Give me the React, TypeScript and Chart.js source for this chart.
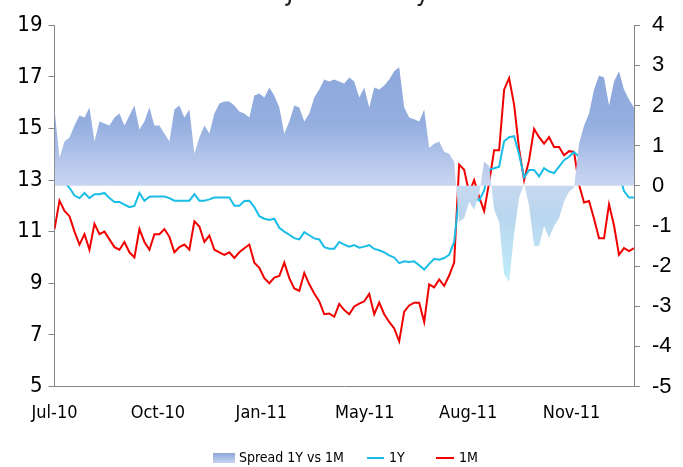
import React, { useEffect, useRef } from 'react';
import { Chart, registerables } from 'chart.js';

Chart.register(...registerables);

// ---------- data ----------
const chartTitle = 'EURJPY Volatility';
const xTickLabels = ['Jul-10', 'Oct-10', 'Jan-11', 'May-11', 'Aug-11', 'Nov-11'];
const xTickEvery = 20.7; // observations between two date labels

const seriesNames = ['Spread 1Y vs 1M', '1Y', '1M'];

const vol1Y = [
  13.0, 12.95, 12.9, 12.7, 12.4, 12.3, 12.5, 12.3, 12.45, 12.45,
  12.5, 12.3, 12.15, 12.15, 12.05, 11.95, 12.0, 12.5, 12.2, 12.35,
  12.36, 12.36, 12.36, 12.3, 12.2, 12.2, 12.2, 12.2, 12.45, 12.2,
  12.2, 12.25, 12.32, 12.32, 12.32, 12.32, 12.0, 12.0, 12.19, 12.2,
  11.95, 11.6, 11.5, 11.45, 11.5, 11.15, 11.0, 10.88, 10.75, 10.7,
  10.98, 10.86, 10.74, 10.7, 10.4, 10.34, 10.34, 10.6, 10.5, 10.42,
  10.48, 10.38, 10.42, 10.48, 10.33, 10.28, 10.2, 10.08, 10.0, 9.78,
  9.85, 9.82, 9.85, 9.7, 9.53, 9.75, 9.95, 9.91, 9.98, 10.1,
  10.6, 12.4, 12.3, 12.3, 12.38, 12.2, 12.6, 13.4, 13.46, 13.52,
  14.5, 14.66, 14.7, 14.0, 13.1, 13.39, 13.39, 13.14, 13.46, 13.33,
  13.27, 13.52, 13.77, 13.9, 14.09, 13.9, 13.65, 13.71, 13.52, 13.52,
  13.65, 14.09, 13.84, 13.27, 12.57, 12.32, 12.32,
];

const vol1M = [
  11.1, 12.2, 11.8, 11.6, 11.0, 10.5, 10.9, 10.3, 11.3, 10.9,
  11.0, 10.7, 10.4, 10.3, 10.6, 10.2, 10.0, 11.1, 10.6, 10.3,
  10.9, 10.9, 11.1, 10.8, 10.2, 10.4, 10.5, 10.3, 11.4, 11.2,
  10.6, 10.85, 10.3, 10.2, 10.1, 10.2, 9.98, 10.2, 10.36, 10.5,
  9.8, 9.6, 9.2, 9.0, 9.22, 9.28, 9.8, 9.2, 8.8, 8.71,
  9.4, 8.96, 8.6, 8.3, 7.8, 7.83, 7.7, 8.2, 7.96, 7.8,
  8.1, 8.21, 8.3, 8.59, 7.8, 8.25, 7.8, 7.5, 7.25, 6.75,
  7.9, 8.14, 8.25, 8.25, 7.5, 8.96, 8.84, 9.15, 8.9, 9.3,
  9.8, 13.6, 13.4, 12.5, 13.0, 12.35, 11.8, 12.9, 14.15, 14.15,
  16.5, 16.95, 15.92, 14.2, 13.0, 13.77, 14.98, 14.66, 14.41, 14.66,
  14.28, 14.28, 13.96, 14.12, 14.09, 12.82, 12.13, 12.19, 11.5, 10.74,
  10.74, 12.06, 11.24, 10.1, 10.36, 10.25, 10.36,
];

const spread1Yvs1M = [
  1.9, 0.7, 1.1, 1.2, 1.5, 1.75, 1.7, 1.95, 1.1, 1.6,
  1.55, 1.5, 1.7, 1.8, 1.5, 1.75, 2.0, 1.4, 1.6, 1.95,
  1.5, 1.5, 1.3, 1.1, 1.9, 2.0, 1.7, 1.9, 0.8, 1.2,
  1.5, 1.3, 1.8, 2.05, 2.1, 2.1, 2.0, 1.85, 1.8, 1.7,
  2.25, 2.3, 2.2, 2.45, 2.25, 1.95, 1.3, 1.6, 2.0, 1.95,
  1.6, 1.8, 2.2, 2.4, 2.65, 2.6, 2.65, 2.6, 2.55, 2.7,
  2.6, 2.2, 2.45, 1.95, 2.45, 2.4, 2.5, 2.65, 2.85, 2.95,
  1.95, 1.7, 1.66, 1.6, 1.9, 0.95, 1.05, 1.1, 0.85, 0.8,
  0.6, -0.9, -0.8, -0.4, -0.6, -0.2, 0.6, 0.5, -0.6, -0.9,
  -2.2, -2.4, -1.2, -0.3, 0.05, -0.5, -1.5, -1.5, -1.0, -1.3,
  -1.0, -0.8, -0.4, -0.15, -0.05, 1.05, 1.5, 1.8, 2.4, 2.75,
  2.7, 2.0, 2.6, 2.85, 2.4, 2.15, 1.95,
];

const leftMin = 5, leftMax = 19, leftStep = 2;
const rightMin = -5, rightMax = 4, rightStep = 1;

// ---------- styles ----------
const NARROW = "'Liberation Sans Narrow', 'DejaVu Sans Condensed', 'Arial Narrow', 'Liberation Sans', sans-serif";
const AXIS = '#868686';
const CYAN = '#19BDE6';
const RED = '#F00000';

function spreadFill(chart: any): any {
  const area = chart.chartArea;
  const ys = chart.scales?.yR;
  if (!area || !ys) return '#9DB3E0';
  const top = ys.getPixelForValue(3.1);
  const zero = ys.getPixelForValue(0);
  const bot = ys.getPixelForValue(-2.6);
  const g = chart.ctx.createLinearGradient(0, top, 0, bot);
  const f = (zero - top) / (bot - top);
  g.addColorStop(0, '#8CA7DB');
  g.addColorStop(f * 0.5, '#94AEDF');
  g.addColorStop(f - 0.002, '#CAD6F1');
  g.addColorStop(f + 0.002, '#C6D9F0');
  g.addColorStop(f + (1 - f) * 0.3, '#B9D6EE');
  g.addColorStop(1, '#C0F1FA');
  return g;
}

const titlePlugin = {
  id: 'cutTitle',
  afterDraw(chart: any) {
    const ctx = chart.ctx;
    ctx.save();
    ctx.font = `26px ${NARROW}`;
    ctx.fillStyle = '#222';
    ctx.textAlign = 'center';
    ctx.textBaseline = 'alphabetic';
    ctx.fillText(chartTitle, 334, 0);
    ctx.restore();
  },
};

const legendPlugin = {
  id: 'bottomLegend',
  afterDraw(chart: any) {
    const ctx = chart.ctx;
    const y = 458;
    ctx.save();
    ctx.font = `14px ${NARROW}`;
    ctx.fillStyle = '#000';
    ctx.textBaseline = 'middle';
    ctx.textAlign = 'left';
    const g = ctx.createLinearGradient(0, y - 5, 0, y + 5);
    g.addColorStop(0, '#8CA7DB');
    g.addColorStop(1, '#C6D4F0');
    ctx.fillStyle = g;
    ctx.fillRect(213, y - 5, 22, 10);
    ctx.fillStyle = '#000';
    ctx.fillText(chart.data.datasets[0].label, 239, y);
    ctx.strokeStyle = CYAN;
    ctx.lineWidth = 2;
    ctx.beginPath(); ctx.moveTo(367, y); ctx.lineTo(384, y); ctx.stroke();
    ctx.fillText(chart.data.datasets[1].label, 389, y);
    ctx.strokeStyle = RED;
    ctx.beginPath(); ctx.moveTo(436, y); ctx.lineTo(454, y); ctx.stroke();
    ctx.fillText(chart.data.datasets[2].label, 459, y);
    ctx.restore();
  },
};

export default function App() {
  const ref = useRef<HTMLCanvasElement | null>(null);

  useEffect(() => {
    if (!ref.current) return;
    const pts = (arr: number[]) => arr.map((v, i) => ({ x: i, y: v }));
    const chart = new Chart(ref.current, {
      type: 'line',
      data: {
        datasets: [
          {
            label: seriesNames[0],
            data: pts(spread1Yvs1M),
            yAxisID: 'yR',
            fill: 'origin',
            backgroundColor: (c: any) => spreadFill(c.chart),
            borderColor: 'rgba(0,0,0,0)',
            borderWidth: 0,
            pointRadius: 0,
            tension: 0,
          },
          {
            label: seriesNames[1],
            data: pts(vol1Y),
            yAxisID: 'yL',
            fill: false,
            borderColor: CYAN,
            borderWidth: 2,
            pointRadius: 0,
            tension: 0,
          },
          {
            label: seriesNames[2],
            data: pts(vol1M),
            yAxisID: 'yL',
            fill: false,
            borderColor: RED,
            borderWidth: 2,
            pointRadius: 0,
            tension: 0,
          },
        ],
      },
      options: {
        responsive: false,
        animation: false,
        events: [],
        layout: { padding: { top: 17, left: 0, right: 0, bottom: 0 } },
        plugins: {
          legend: { display: false },
          title: { display: false },
          tooltip: { enabled: false },
        },
        scales: {
          x: {
            type: 'linear',
            position: 'bottom',
            min: 0,
            max: spread1Yvs1M.length - 1,
            grid: { display: true, drawOnChartArea: false, drawTicks: false, color: AXIS },
            border: { display: true, color: AXIS, width: 1 },
            ticks: {
              autoSkip: false,
              maxRotation: 0,
              padding: 16,
              color: '#000',
              font: { family: NARROW, size: 18 },
              callback: (_v: any, i: number) => xTickLabels[i],
            },
            afterBuildTicks: (s: any) => {
              s.ticks = xTickLabels.map((_, i) => ({ value: i * xTickEvery }));
            },
            afterFit: (s: any) => { s.height = 80.5; },
          },
          yL: {
            type: 'linear',
            position: 'left',
            min: leftMin,
            max: leftMax,
            ticks: { stepSize: leftStep, padding: 6, color: '#000', font: { family: NARROW, size: 22 } },
            grid: { drawOnChartArea: false, drawTicks: true, tickLength: 6, color: AXIS },
            border: { display: true, color: AXIS, width: 1 },
            afterFit: (s: any) => { s.width = 54.5; },
          },
          yR: {
            type: 'linear',
            position: 'right',
            min: rightMin,
            max: rightMax,
            ticks: { stepSize: rightStep, padding: 12, color: '#000', font: { family: "'Liberation Sans', Arial, sans-serif", size: 22 } },
            grid: { drawOnChartArea: false, drawTicks: true, tickLength: 6, color: AXIS },
            border: { display: true, color: AXIS, width: 1 },
            afterFit: (s: any) => { s.width = 49; },
          },
        },
      },
      plugins: [titlePlugin, legendPlugin],
    } as any);
    return () => chart.destroy();
  }, []);

  return (
    <div style={{ position: 'absolute', left: 0, top: 0, width: 683, height: 467, background: '#fff' }}>
      <canvas ref={ref} width={683} height={467} />
    </div>
  );
}
